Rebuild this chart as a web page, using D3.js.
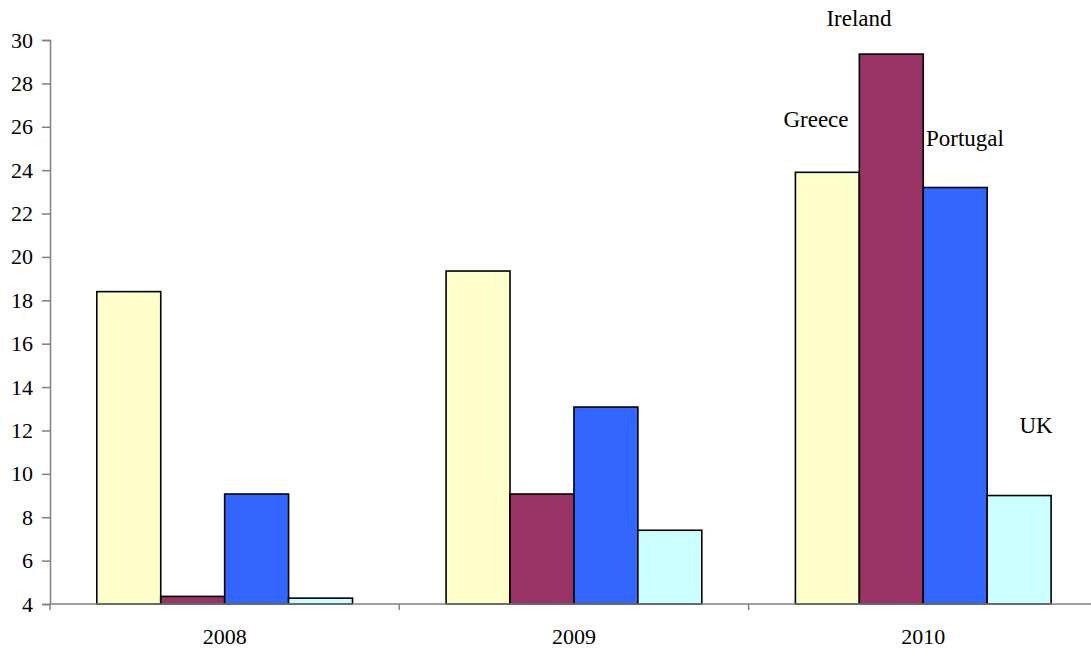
<!DOCTYPE html>
<html>
<head>
<meta charset="utf-8">
<script src="https://cdn.jsdelivr.net/npm/d3@7"></script>
<style>
  body { margin: 0; background: #fff; }
</style>
</head>
<body>
<div id="chart"></div>
<script>
// Data
var years = ["2008", "2009", "2010"];
var countries = ["Greece", "Ireland", "Portugal", "UK"];
var greece = [18.4, 19.35, 23.9];
var ireland = [4.35, 9.07, 29.35];
var portugal = [9.07, 13.08, 23.2];
var uk = [4.27, 7.4, 9.0];
var yTicks = [4, 6, 8, 10, 12, 14, 16, 18, 20, 22, 24, 26, 28, 30];
var colors = ["#FFFFCC", "#993366", "#3366FF", "#CCFFFF"];

var series = [greece, ireland, portugal, uk];
var FONT = '"Liberation Serif", "Times New Roman", serif';

var svgWidth = 1091;
var svgHeight = 650;
var margin = { top: 40, left: 50, bottom: 46 };

var svg = d3.select("#chart")
    .append("svg")
    .attr("width", svgWidth)
    .attr("height", svgHeight)
    .attr("font-family", FONT);

// scales
var x0 = d3.scaleBand()
    .domain(years)
    .range([margin.left, margin.left + 3 * 349.3])
    .paddingInner(0.268)
    .paddingOuter(0.134);

var x1 = d3.scaleBand()
    .domain(countries)
    .range([0, x0.bandwidth()]);

var y = d3.scaleLinear()
    .domain([4, 30])
    .range([svgHeight - margin.bottom, margin.top]);

var y0 = y(4);

// bars
var rows = years.map(function(yr, i) {
    return { year: yr, vals: countries.map(function(c, j) { return { c: c, v: series[j][i], k: j }; }) };
});

var groups = svg.selectAll("g.year")
    .data(rows)
    .enter().append("g")
    .attr("class", "year")
    .attr("transform", d => `translate(${x0(d.year)},0)`);

groups.selectAll("rect")
    .data(d => d.vals)
    .enter().append("rect")
    .attr("x", d => x1(d.c))
    .attr("y", d => y(d.v))
    .attr("width", x1.bandwidth())
    .attr("height", d => y0 - y(d.v))
    .attr("fill", d => colors[d.k])
    .attr("stroke", "#000")
    .attr("stroke-width", 1.6);

// y axis
var leftAxis = d3.axisLeft(y).tickValues(yTicks).tickSize(8).tickPadding(9);
var gy = svg.append("g")
    .attr("transform", `translate(${margin.left},0)`)
    .call(leftAxis)
    .attr("font-family", FONT)
    .attr("font-size", 22);
gy.select(".domain").attr("stroke", "#808080").attr("stroke-width", 1.5);
gy.selectAll(".tick line").attr("stroke", "#808080").attr("stroke-width", 1.5);
gy.selectAll(".tick text")
    .style("font-family", FONT)
    .style("font-size", "22px")
    .attr("fill", "#000");

// x axis
var xLine = svg.append("g");
xLine.append("line")
    .attr("x1", margin.left)
    .attr("x2", svgWidth)
    .attr("y1", y0)
    .attr("y2", y0)
    .attr("stroke", "#808080")
    .attr("stroke-width", 1.5);

var sep = [0, 1, 2].map(i => margin.left + i * 349.3);
xLine.selectAll("line.sep")
    .data(sep)
    .enter().append("line")
    .attr("class", "sep")
    .attr("x1", d => d).attr("x2", d => d)
    .attr("y1", y0).attr("y2", y0 + 6)
    .attr("stroke", "#808080")
    .attr("stroke-width", 1.5);

xLine.selectAll("text")
    .data(years)
    .enter().append("text")
    .attr("x", d => x0(d) + x0.bandwidth() / 2)
    .attr("y", 644)
    .attr("text-anchor", "middle")
    .style("font-family", FONT)
    .style("font-size", "22px")
    .text(d => d);

// country labels above 2010 bars
var labelPos = [
    { dx: 816, y: 127, anchor: "middle" },
    { dx: 859, y: 26, anchor: "middle" },
    { dx: 926, y: 146, anchor: "start" },
    { dx: 1036, y: 433, anchor: "middle" }
];
svg.selectAll("text.lab")
    .data(countries)
    .enter().append("text")
    .attr("class", "lab")
    .attr("x", (d, i) => labelPos[i].dx)
    .attr("y", (d, i) => labelPos[i].y)
    .attr("text-anchor", (d, i) => labelPos[i].anchor)
    .style("font-family", FONT)
    .style("font-size", "23px")
    .text(d => d);
</script>
</body>
</html>
